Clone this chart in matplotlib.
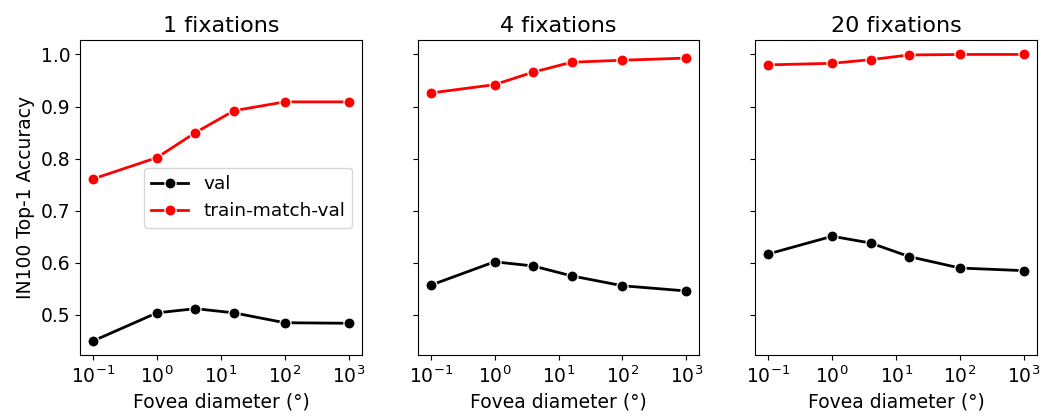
import matplotlib
matplotlib.use("Agg")
import matplotlib.pyplot as plt
import numpy as np

# fovea diameters (deg)
fovea = [0.1, 1, 4, 16, 100, 1000]
fixations = [1, 4, 20]

val = {
    1: [0.450, 0.504, 0.512, 0.504, 0.485, 0.484],
    4: [0.557, 0.602, 0.594, 0.575, 0.556, 0.546],
    20: [0.617, 0.651, 0.638, 0.612, 0.590, 0.585],
}
train_match_val = {
    1: [0.761, 0.802, 0.850, 0.892, 0.909, 0.909],
    4: [0.926, 0.942, 0.966, 0.985, 0.989, 0.993],
    20: [0.980, 0.983, 0.990, 0.999, 1.000, 1.000],
}

plt.rcParams['font.size'] = 13.5
plt.rcParams['xtick.labelsize'] = 13.5
plt.rcParams['ytick.labelsize'] = 13.5
fig, axes = plt.subplots(1, 3, figsize=(10.42, 4.18), dpi=100, sharey=True)
fig.subplots_adjust(left=0.077, right=0.995, top=0.904, bottom=0.15, wspace=0.2)

for ax, nf in zip(axes, fixations):
    kw = dict(marker='o', markersize=8, markeredgecolor='white', markeredgewidth=0.9, linewidth=2)
    ax.plot(fovea, val[nf], color='black', label='val', **kw)
    ax.plot(fovea, train_match_val[nf], color='red', label='train-match-val', **kw)
    ax.set_xscale('log')
    ax.xaxis.set_minor_locator(matplotlib.ticker.NullLocator())
    ax.set_xticks([1e-1, 1e0, 1e1, 1e2, 1e3])
    ax.set_title(f'{nf} fixations', fontsize=16)
    ax.set_xlabel('Fovea diameter (°)')
    ax.set_yticks([0.5, 0.6, 0.7, 0.8, 0.9, 1.0])

axes[0].set_ylim(0.4225, 1.0275)
axes[0].set_ylabel('IN100 Top-1 Accuracy')
axes[0].legend(loc='center right', fontsize=13.3)

fig.savefig('out.png')
